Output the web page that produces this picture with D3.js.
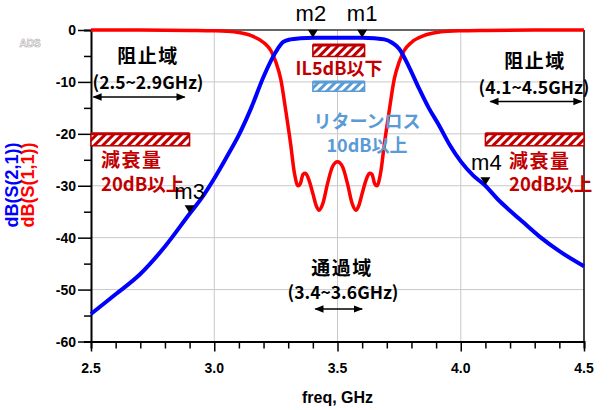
<!DOCTYPE html>
<html>
<head>
<meta charset="utf-8">
<script src="https://cdn.jsdelivr.net/npm/d3@7"></script>
<style>
  body { margin: 0; background: #fff; }
  svg { display: block; }
</style>
</head>
<body>
<div id="chart"></div>
<script>
// S21 (blue)
const freqS21 = [2.5, 2.6, 2.7, 2.8, 2.9, 2.95, 3.0, 3.05, 3.1, 3.15, 3.2, 3.25, 3.28, 3.31, 3.35, 3.4, 3.5, 3.6, 3.65, 3.69, 3.72, 3.75, 3.79, 3.83, 3.87, 3.91, 3.956, 4.0, 4.05, 4.1, 4.15, 4.2, 4.25, 4.32, 4.4, 4.5];
const s21dB = [-54.7, -50.9, -47.0, -41.7, -35.4, -32.3, -28.6, -24.5, -20.2, -15.0, -9.0, -4.2, -2.3, -1.8, -1.6, -1.5, -1.5, -1.5, -1.6, -1.8, -2.4, -3.6, -7.1, -11.2, -15.0, -18.2, -22.2, -25.3, -28.0, -30.0, -32.6, -34.8, -36.9, -39.8, -42.6, -45.5];

// S11 (red)
const freqS11 = [2.5, 2.7, 2.9, 3.0, 3.05, 3.1, 3.15, 3.2, 3.23, 3.25, 3.27, 3.29, 3.31, 3.325, 3.34, 3.35, 3.36, 3.37, 3.385, 3.4, 3.415, 3.425, 3.44, 3.46, 3.48, 3.5, 3.52, 3.54, 3.56, 3.575, 3.585, 3.6, 3.615, 3.63, 3.64, 3.65, 3.66, 3.675, 3.69, 3.71, 3.73, 3.75, 3.77, 3.8, 3.85, 3.9, 3.95, 4.0, 4.1, 4.3, 4.5];
const s11dB = [0, -0.02, -0.08, -0.15, -0.25, -0.5, -1.1, -2.4, -4.0, -6.2, -9.5, -15.5, -22, -27.5, -30, -29.5, -27.8, -27.6, -29, -31.5, -34, -34.7, -33.5, -29.5, -26.3, -25.4, -26.3, -29.5, -33.5, -34.7, -34, -31.5, -29, -27.6, -27.8, -29.5, -30, -27.5, -22, -15.5, -9.5, -6.2, -4.0, -2.4, -1.1, -0.5, -0.25, -0.15, -0.08, -0.02, 0];

const xTicks = [2.5, 3.0, 3.5, 4.0, 4.5];
const yTicks = [0, -10, -20, -30, -40, -50, -60];

const markerNames = ["m1", "m2", "m3", "m4"];
const markerFreqs = [3.6, 3.4, 2.9, 4.1];
const markerValues = [-1.5, -1.5, -35.3, -29.9];

const width = 612, height = 410;
const x = d3.scaleLinear().domain([2.5, 4.5]).range([91, 584]);
const y = d3.scaleLinear().domain([-60, 0]).range([341.5, 30]);

const svg = d3.select("#chart").append("svg")
    .attr("width", width)
    .attr("height", height)
    .style("font-family", "'Liberation Sans', Arial, sans-serif");

const defs = svg.append("defs");
function hatch(id, color) {
    const p = defs.append("pattern")
        .attr("id", id)
        .attr("patternUnits", "userSpaceOnUse")
        .attr("width", 6).attr("height", 6)
        .attr("patternTransform", "rotate(45)");
    p.append("rect").attr("width", 6).attr("height", 6).attr("fill", "#fff");
    p.append("rect").attr("width", 3).attr("height", 6).attr("fill", color);
}
hatch("hatchRed", "#C00000");
hatch("hatchBlue", "#5B9BD5");
const mk = defs.append("marker")
    .attr("id", "arrowHead")
    .attr("viewBox", "0 0 10 10")
    .attr("refX", 9).attr("refY", 5)
    .attr("markerWidth", 7).attr("markerHeight", 7)
    .attr("orient", "auto-start-reverse");
mk.append("path").attr("d", "M0,1 L10,5 L0,9 Z").attr("fill", "#000");

// grid
svg.append("g").selectAll("line")
    .data(xTicks.slice(1, -1))
    .join("line")
    .attr("x1", d => x(d)).attr("x2", d => x(d))
    .attr("y1", y(0)).attr("y2", y(-60))
    .attr("stroke", "#c8c8c8").attr("stroke-width", 1);
svg.append("g").selectAll("line")
    .data(yTicks.slice(1, -1))
    .join("line")
    .attr("x1", x(2.5)).attr("x2", x(4.5))
    .attr("y1", d => y(d)).attr("y2", d => y(d))
    .attr("stroke", "#c8c8c8").attr("stroke-width", 1);

// frame top / right
svg.append("line").attr("x1", x(2.5)).attr("x2", x(4.5)).attr("y1", y(0)).attr("y2", y(0))
    .attr("stroke", "#333").attr("stroke-width", 1.5);
svg.append("line").attr("x1", x(4.5)).attr("x2", x(4.5)).attr("y1", y(0)).attr("y2", y(-60))
    .attr("stroke", "#000").attr("stroke-width", 1.5);

// axes
const yAxis = d3.axisLeft(y).tickValues(d3.range(-60, 1, 5)).tickSize(7).tickFormat("");
const gy = svg.append("g").attr("transform", `translate(${x(2.5)},0)`).call(yAxis);
gy.selectAll(".tick line").filter(d => d % 10 === 0).attr("x2", -13);
svg.append("g").selectAll("text")
    .data(yTicks).join("text")
    .attr("x", 76).attr("y", d => y(d) + 5)
    .attr("text-anchor", "end")
    .style("font-size", "14px").style("font-weight", "bold")
    .text(d => d);

const xAxis = d3.axisBottom(x).tickValues(d3.range(25, 46, 1).map(d => d / 10)).tickSize(7).tickFormat("");
const gx = svg.append("g").attr("transform", `translate(0,${y(-60)})`).call(xAxis);
gx.selectAll(".tick line").filter(d => Math.abs(d * 2 - Math.round(d * 2)) < 1e-6).attr("y2", 10);
svg.append("g").selectAll("text")
    .data(xTicks).join("text")
    .attr("x", d => x(d)).attr("y", 373)
    .attr("text-anchor", "middle")
    .style("font-size", "14px").style("font-weight", "bold")
    .text(d => d.toFixed(1));
[gx, gy].forEach(g => {
    g.select(".domain").attr("stroke", "#000").attr("stroke-width", 2);
    g.selectAll(".tick line").attr("stroke", "#000").attr("stroke-width", 1.5);
});

// axis titles
svg.append("text")
    .attr("x", x(3.5)).attr("y", 403)
    .attr("text-anchor", "middle")
    .style("font-size", "16px").style("font-weight", "bold")
    .text("freq, GHz");
svg.append("text")
    .attr("transform", "translate(18,185) rotate(-90)")
    .attr("text-anchor", "middle")
    .style("font-size", "18px").style("font-weight", "bold")
    .attr("fill", "#0000FF")
    .text("dB(S(2,1))");
svg.append("text")
    .attr("transform", "translate(34,185) rotate(-90)")
    .attr("text-anchor", "middle")
    .style("font-size", "18px").style("font-weight", "bold")
    .attr("fill", "#FF0000")
    .text("dB(S(1,1))");

svg.append("text").attr("x", 30).attr("y", 47).attr("text-anchor", "middle")
    .style("font-size", "10px").style("font-weight", "bold")
    .attr("fill", "#fff").attr("stroke", "#aaa").attr("stroke-width", 0.6)
    .text("ADS");

// spec boxes (hatched)
function box(f0, f1, top, bottom, fillId, color) {
    svg.append("rect")
        .attr("x", x(f0)).attr("y", y(top))
        .attr("width", x(f1) - x(f0)).attr("height", y(bottom) - y(top))
        .attr("fill", `url(#${fillId})`)
        .attr("stroke", color).attr("stroke-width", 1.5);
    svg.append("line")
        .attr("x1", x(f0)).attr("x2", x(f1)).attr("y1", y(top)).attr("y2", y(top))
        .attr("stroke", color).attr("stroke-width", 3);
}
box(2.5, 2.9, -20, -22.3, "hatchRed", "#C00000");
box(4.1, 4.5, -20, -22.3, "hatchRed", "#C00000");
box(3.4, 3.61, -2.9, -5.1, "hatchRed", "#C00000");
box(3.4, 3.61, -10, -11.8, "hatchBlue", "#5B9BD5");

// curves
const line = d3.line().x(d => x(d[0])).y(d => y(d[1])).curve(d3.curveMonotoneX);
svg.append("path")
    .datum(d3.zip(freqS11, s11dB))
    .attr("d", line)
    .attr("fill", "none").attr("stroke", "#FF0000").attr("stroke-width", 3.5)
    .attr("stroke-linejoin", "round");
svg.append("path")
    .datum(d3.zip(freqS21, s21dB))
    .attr("d", line)
    .attr("fill", "none").attr("stroke", "#0000FF").attr("stroke-width", 4)
    .attr("stroke-linejoin", "round");

// annotations
const jp = "'Noto Sans CJK JP', 'Noto Sans', sans-serif";
function label(px, py, txt, color, size, anchor, spacing) {
    svg.append("text")
        .attr("x", px).attr("y", py)
        .attr("text-anchor", anchor || "middle")
        .style("font-family", jp)
        .style("font-size", size + "px").style("font-weight", "bold")
        .style("letter-spacing", (spacing || 0) + "px")
        .attr("fill", color)
        .text(txt);
}
function arrow(f0, f1, py) {
    svg.append("line")
        .attr("x1", x(f0)).attr("x2", x(f1)).attr("y1", py).attr("y2", py)
        .attr("stroke", "#000").attr("stroke-width", 1.3)
        .attr("marker-start", "url(#arrowHead)")
        .attr("marker-end", "url(#arrowHead)");
}
label(148, 63, "阻止域", "#000", 19, "middle", 1.5);
label(148, 89, "(2.5~2.9GHz)", "#000", 17.5);
arrow(2.51, 2.88, 97);
label(535, 68, "阻止域", "#000", 19, "middle", 1.5);
label(534, 94, "(4.1~4.5GHz)", "#000", 17.5);
arrow(4.12, 4.49, 101.5);
label(101, 167, "減衰量", "#C00000", 19, "start", 1.5);
label(101, 191, "20dB以上", "#C00000", 18.5, "start");
label(509, 168, "減衰量", "#C00000", 19, "start", 1.5);
label(509, 191, "20dB以上", "#C00000", 18.5, "start");
label(339, 75, "IL5dB以下", "#C00000", 18);
label(367, 128, "リターンロス", "#5B9BD5", 18);
label(367, 152, "10dB以上", "#5B9BD5", 18);
label(342, 275, "通過域", "#000", 19, "middle", 1.5);
label(343, 299, "(3.4~3.6GHz)", "#000", 17.5);
arrow(3.41, 3.6, 309);

// markers
const markers = d3.zip(markerNames, markerFreqs, markerValues);
svg.append("g").selectAll("path")
    .data(markers).join("path")
    .attr("d", d => {
        const px = x(d[1]), py = y(d[2]);
        return `M${px},${py} L${px - 5},${py - 8} L${px + 5},${py - 8} Z`;
    })
    .attr("fill", "#000");
const labelOffset = { m1: [0, -17], m2: [-2, -17], m3: [0, -14], m4: [1, -15] };
svg.append("g").selectAll("text")
    .data(markers).join("text")
    .attr("x", d => x(d[1]) + labelOffset[d[0]][0])
    .attr("y", d => y(d[2]) + labelOffset[d[0]][1])
    .attr("text-anchor", "middle")
    .style("font-size", "22px")
    .text(d => d[0]);
</script>
</body>
</html>
